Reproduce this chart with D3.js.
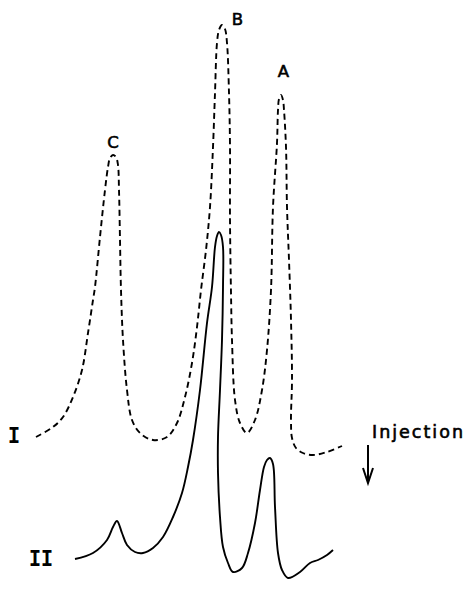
<!DOCTYPE html>
<html>
<head>
<meta charset="utf-8">
<script src="https://cdn.jsdelivr.net/npm/d3@7"></script>
<style>
  body { margin: 0; background: #fff; }
  svg { display: block; }
</style>
</head>
<body>
<figure id="chrom" style="margin:0"></figure>
<script>
// trace I (dashed): retention (chart mm) / response (chart mm)
const traceI_t = [6, 23, 33, 43, 52, 58, 63, 65, 70, 75, 78, 80, 83, 86, 88, 89, 90, 91, 93, 97, 102, 110, 123, 137, 147, 155, 162, 167, 171, 176, 180, 183, 185, 187, 189, 192, 195, 197, 199, 200, 200, 201, 202, 205, 210, 217, 225, 232, 237, 241, 243, 247, 248, 249, 251, 253, 254, 256, 257, 259, 261, 262, 261, 262, 266, 273, 283, 297, 312];
const traceI_v = [153, 163, 173, 193, 220, 257, 290, 303, 353, 400, 423, 432, 435, 433, 425, 400, 350, 300, 250, 200, 170, 157, 150, 153, 167, 193, 227, 263, 300, 340, 383, 443, 497, 547, 560, 565, 561, 547, 497, 443, 370, 297, 250, 190, 167, 157, 170, 200, 240, 300, 383, 447, 480, 491, 495, 490, 480, 443, 383, 330, 270, 210, 170, 152, 142, 137, 135, 138, 144];

// trace II (solid)
const traceII_t = [45, 63, 77, 83, 87, 92, 97, 105, 113, 123, 133, 143, 152, 158, 163, 170, 177, 182, 185, 187, 189, 191, 193, 193, 192, 190, 188, 188, 190, 193, 198, 203, 212, 218, 225, 230, 234, 237, 240, 243, 245, 248, 252, 258, 270, 280, 288, 297, 303];
const traceII_v = [31, 37, 50, 63, 69, 57, 45, 38, 37, 42, 53, 73, 97, 123, 150, 200, 267, 303, 343, 354, 358, 355, 343, 303, 250, 200, 153, 117, 73, 43, 27, 18, 22, 37, 67, 100, 123, 130, 132, 126, 83, 37, 20, 12, 18, 27, 30, 35, 40];

// peak labels on trace I
const peakNames = ["C", "B", "A"];
const peakT = [83, 207.5, 253.5];
const peakV = [442, 565, 513];

const width = 466, height = 599;

const svg = d3.select("figure#chrom")
  .append("svg")
  .attr("width", width)
  .attr("height", height);

const x = d3.scaleLinear().domain([0, 330]).range([30, 360]);
const y = d3.scaleLinear().domain([0, 590]).range([590, 0]);

const line = d3.line()
  .x(d => x(d[0]))
  .y(d => y(d[1]))
  .curve(d3.curveCatmullRom.alpha(0.5));

const dataI = d3.zip(traceI_t, traceI_v);
const dataII = d3.zip(traceII_t, traceII_v);

svg.append("path")
  .datum(dataI)
  .attr("d", line)
  .attr("fill", "none")
  .attr("stroke", "#000")
  .attr("stroke-width", 1.9)
  .attr("stroke-dasharray", "6,4");

svg.append("path")
  .datum(dataII)
  .attr("d", line)
  .attr("fill", "none")
  .attr("stroke", "#000")
  .attr("stroke-width", 1.9);

svg.selectAll("text.peak")
  .data(peakNames)
  .enter()
  .append("text")
  .attr("class", "peak")
  .attr("x", (d, i) => x(peakT[i]))
  .attr("y", (d, i) => y(peakV[i]))
  .attr("text-anchor", "middle")
  .attr("stroke", "#000")
  .attr("stroke-width", 0.6)
  .style("font-family", "DejaVu Sans, sans-serif")
  .style("font-size", "16.5px")
  .text(d => d);

// trace labels
svg.append("text")
  .attr("transform", "translate(14,443) scale(1,1.2)")
  .attr("text-anchor", "middle")
  .style("font-family", "Liberation Mono, monospace")
  .style("font-weight", "bold")
  .style("font-size", "20px")
  .text("I");

svg.append("text")
  .attr("transform", "translate(41,566) scale(1,1.2)")
  .attr("text-anchor", "middle")
  .style("font-family", "Liberation Mono, monospace")
  .style("font-weight", "bold")
  .style("font-size", "20px")
  .text("II");

// injection marker
svg.append("text")
  .attr("x", 372).attr("y", 438)
  .attr("textLength", 91)
  .attr("lengthAdjust", "spacing")
  .attr("stroke", "#000")
  .attr("stroke-width", 0.6)
  .style("font-family", "DejaVu Sans, sans-serif")
  .style("font-size", "17.5px")
  .text("Injection");

svg.append("line")
  .attr("x1", 368).attr("y1", 445)
  .attr("x2", 368).attr("y2", 482)
  .attr("stroke", "#000")
  .attr("stroke-width", 2);

svg.append("path")
  .attr("d", "M363,468L368,483L373,468")
  .attr("fill", "none")
  .attr("stroke", "#000")
  .attr("stroke-width", 2);
</script>
</body>
</html>
